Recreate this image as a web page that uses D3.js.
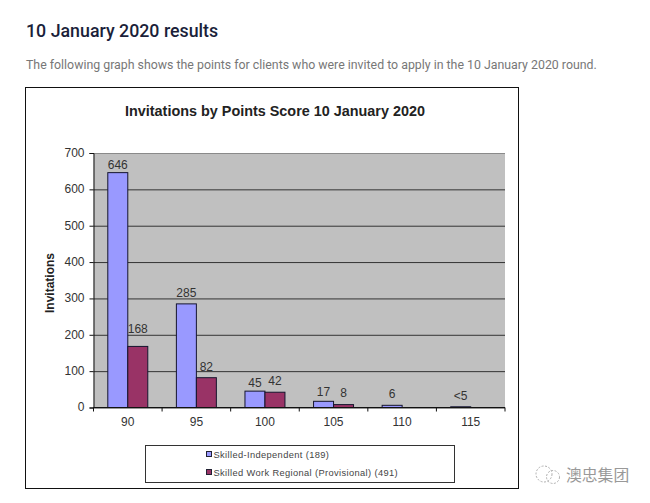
<!DOCTYPE html>
<html><head><meta charset="utf-8">
<script src="https://cdnjs.cloudflare.com/ajax/libs/d3/7.8.5/d3.min.js"></script>
<style>html,body{margin:0;background:#fff}svg{display:block}</style></head>
<body><svg id="c" width="650" height="503"></svg>
<script>
const categories = ["90","95","100","105","110","115"];
const seriesNames = ["Skilled-Independent (189)","Skilled Work Regional (Provisional) (491)"];
const independent = [646,285,45,17,6,2];
const regional = [168,82,42,8,0,0];
const independentLabels = ["646","285","45","17","6","<5"];
const regionalLabels = ["168","82","42","8","",""];
const yTicks = [0,100,200,300,400,500,600,700];
const colors = ["#9999ff","#993366"];

const svg = d3.select("#c");
const arial = "'Liberation Sans',Arial,sans-serif";
const roboto = "Roboto,sans-serif";

svg.append("text").attr("x",26).attr("y",37).attr("font-family",roboto).attr("font-weight",500)
  .attr("font-size",17.8).attr("fill","#1b1f3a").text("10 January 2020 results");
svg.append("text").attr("x",26).attr("y",69).attr("font-family",roboto).attr("font-size",12.35)
  .attr("fill","#777").text("The following graph shows the points for clients who were invited to apply in the 10 January 2020 round.");

svg.append("rect").attr("x",25.5).attr("y",87.5).attr("width",493).attr("height",401)
  .attr("fill","#fff").attr("stroke","#111");
svg.append("text").attr("x",275).attr("y",116).attr("text-anchor","middle").attr("font-family",arial)
  .attr("font-weight",700).attr("font-size",14.4).attr("fill","#222").text("Invitations by Points Score 10 January 2020");

const m = {l:93.5,r:505,t:153,b:407.5};
const y = d3.scaleLinear().domain([0,700]).range([m.b,m.t]);
const x0 = d3.scaleBand().domain(categories).range([m.l,m.r]).paddingInner(0.417).paddingOuter(0.2085);
const x1 = d3.scaleBand().domain([0,1]).range([0,x0.bandwidth()]);

svg.append("rect").attr("x",m.l).attr("y",m.t).attr("width",m.r-m.l).attr("height",m.b-m.t).attr("fill","#c0c0c0");

const grid = svg.append("g").attr("transform",`translate(${m.l},0)`)
  .call(d3.axisLeft(y).tickValues(yTicks).tickSize(-(m.r-m.l)).tickFormat(""));
grid.select(".domain").remove();
grid.selectAll("line").attr("stroke","#333").attr("stroke-width",1);
grid.selectAll(".tick").filter(d=>d===700).select("line").attr("stroke","#8a8a8a");

[independent,regional].forEach((vals,s)=>{
  svg.append("g").selectAll("rect").data(vals.map((v,i)=>({v,c:categories[i]})).filter(d=>d.v>0)).join("rect")
    .attr("x",d=>x0(d.c)+x1(s)).attr("y",d=>y(d.v)).attr("width",x1.bandwidth()).attr("height",d=>y(0)-y(d.v))
    .attr("fill",colors[s]).attr("stroke","#15152e").attr("stroke-width",1);
});

// The reference places its data labels by hand, so each gap above a bar differs.
const labelGaps = [[4,7,4,5,7,7],[13,7,7,8,0,0]];
[independentLabels,regionalLabels].forEach((labs,s)=>{
  const vals = s===0?independent:regional;
  svg.append("g").selectAll("text").data(labs.map((t,i)=>({t,v:vals[i],c:categories[i],gap:labelGaps[s][i]})).filter(d=>d.t)).join("text")
    .attr("x",d=>x0(d.c)+x1(s)+x1.bandwidth()/2).attr("y",d=>y(d.v)-d.gap)
    .attr("text-anchor","middle").attr("font-family",arial).attr("font-size",12).attr("fill","#333").text(d=>d.t);
});

const ax = svg.append("g").attr("transform",`translate(${m.l},0)`)
  .call(d3.axisLeft(y).tickValues(yTicks).tickSize(4).tickPadding(5));
ax.selectAll("text").attr("dy","0.28em");
const bx = svg.append("g").attr("transform",`translate(0,${m.b})`)
  .call(d3.axisBottom(x0).tickSize(0).tickPadding(10));
[ax,bx].forEach(g=>{g.selectAll("text").attr("font-family",arial).attr("font-size",12).attr("fill","#333");
  g.select(".domain").attr("stroke","#111");g.selectAll("line").attr("stroke","#111");});
bx.select(".domain").remove();
const step = x0.step();
svg.append("line").attr("x1",m.l).attr("x2",m.r).attr("y1",m.b).attr("y2",m.b).attr("stroke","#111");
svg.append("g").selectAll("line").data(d3.range(categories.length+1)).join("line")
  .attr("x1",i=>m.l+i*step).attr("x2",i=>m.l+i*step).attr("y1",m.b).attr("y2",m.b+4).attr("stroke","#111");

svg.append("text").attr("transform","translate(54,283) rotate(-90)").attr("text-anchor","middle")
  .attr("font-family",arial).attr("font-weight",700).attr("font-size",12).attr("fill","#222").text("Invitations");

svg.append("rect").attr("x",145.5).attr("y",445.5).attr("width",309).attr("height",37).attr("fill","#fff").attr("stroke","#333");
seriesNames.forEach((n,i)=>{
  const yy = 454+i*18;
  svg.append("rect").attr("x",206.5).attr("y",yy-2.5).attr("width",5).attr("height",5).attr("fill",colors[i]).attr("stroke","#223");
  svg.append("text").attr("x",213.5).attr("y",yy+3.5).attr("font-family",arial).attr("font-size",9.3)
    .attr("letter-spacing",0.37).attr("fill","#444").text(n);
});

const wm = svg.append("g").attr("fill","none").attr("stroke","#b0b0b0").attr("stroke-width",1).attr("stroke-dasharray","2 1.5");
wm.append("circle").attr("cx",544).attr("cy",474).attr("r",8);
wm.append("circle").attr("cx",553).attr("cy",477).attr("r",6.5);
svg.append("text").attr("x",566).attr("y",481).attr("font-family","'Noto Sans CJK SC'").attr("font-size",15.8)
  .attr("fill","#999").text("澳忠集团");
</script></body></html>
